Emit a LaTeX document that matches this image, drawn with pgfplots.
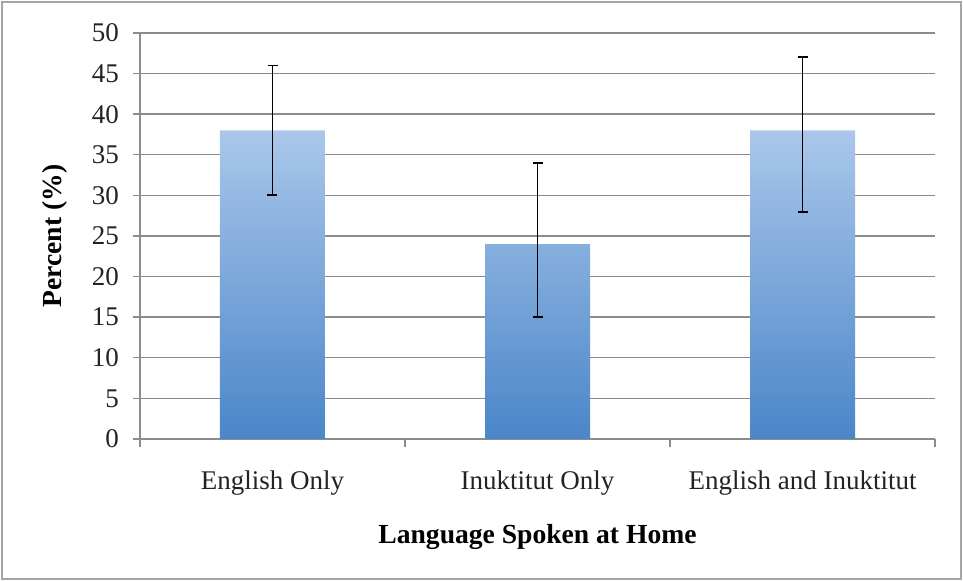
\documentclass[border=0pt]{standalone}
\usepackage{pgfplots}
\pgfplotsset{compat=1.18}
\usepackage{pgfplotstable}
\usepackage{fontspec}
\setmainfont{Liberation Serif}

\definecolor{gridgray}{RGB}{140,140,140}
\definecolor{framegray}{RGB}{165,165,165}
\definecolor{bartop}{RGB}{170,199,234}
\definecolor{barbot}{RGB}{74,134,201}
\definecolor{txt}{RGB}{35,35,35}

% x, bar height, error up, error down
\pgfplotstableread{
x y ep em
0 38 8 8
1 24 10 9
2 38 9 10
}\langdata

\begin{document}
\begin{tikzpicture}
\useasboundingbox (-70pt,-71pt) rectangle (411.5pt,219.5pt);
\draw[framegray, line width=1pt] (-69pt,-70pt) rectangle (410.5pt,218.5pt);
\begin{axis}[
  at={(0,0)}, anchor=south west,
  scale only axis, width=397.5pt, height=203pt,
  xmin=-0.5, xmax=2.5, ymin=0, ymax=50,
  ytick={0,5,...,50},
  xtick={0,1,2},
  xticklabels={English Only,Inuktitut Only,English and Inuktitut},
  minor xtick={-0.5,0.5,1.5,2.5},
  axis lines*=left,
  axis line style={gridgray, line width=0.8pt},
  ymajorgrids, major grid style={gridgray, line width=0.7pt},
  tick align=outside,
  major x tick style={draw=none},
  major y tick style={gridgray, line width=0.7pt},
  minor x tick style={gridgray, line width=0.7pt},
  major tick length=3.5pt, minor tick length=4pt,
  /pgf/number format/assume math mode=true,
  ticklabel style={font=\fontsize{13.5}{16}\selectfont, text=txt},
  yticklabel style={xshift=-3.5pt},
  xticklabel style={yshift=-9pt},
  xlabel={Language Spoken at Home},
  ylabel={Percent (\%)},
  every axis x label/.style={at={([yshift=-49pt]axis description cs:0.5,0)}, anchor=center,
    font=\fontsize{13.8}{16}\selectfont\bfseries},
  every axis y label/.style={at={([xshift=-42.5pt]axis description cs:0,0.5)}, anchor=center, rotate=90,
    font=\fontsize{13.8}{16}\selectfont\bfseries},
  clip=false,
]
\addplot[ybar, bar width=52.5pt, bar shift=0pt, draw=none,
  top color=bartop, bottom color=barbot]
  table[x=x, y=y] {\langdata};
\addplot[draw=none, mark=none,
  error bars/.cd, y dir=both, y explicit,
  error bar style={black, line width=0.9pt},
  error mark options={black, line width=0.9pt, mark size=2.5pt, rotate=90}]
  table[x=x, y=y, y error plus=ep, y error minus=em] {\langdata};
\end{axis}
\end{tikzpicture}
\end{document}
